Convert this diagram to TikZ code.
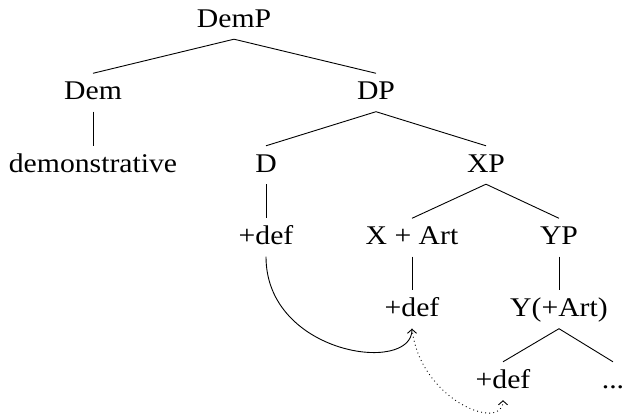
\documentclass[tikz,border=0pt]{standalone}
\usepackage{fontspec}
\setmainfont{Liberation Serif}[FakeStretch=1.1]
\usetikzlibrary{arrows.meta}
\tikzset{
  tn/.style={anchor=base, inner xsep=0pt, inner ysep=10pt, text height=16.5pt, text depth=1.5pt,
             font=\fontsize{27}{31}\selectfont},
  br/.style={line width=0.9pt},
  mv/.style={line width=0.9pt, -{Straight Barb[length=4pt,width=9pt]}},
  mvdot/.style={mv, dash pattern=on 0.9pt off 3.2pt}
}
\begin{document}
\begin{tikzpicture}[x=1pt,y=-1pt]
\useasboundingbox (0,0) rectangle (625,419);
\node[tn] (DemP) at (234,27.5) {DemP};
\node[tn] (Dem) at (93,100) {Dem};
\node[tn] (DP) at (376,100) {DP};
\node[tn] (demo) at (93,172.5) {demonstrative};
\node[tn] (D) at (266,172.5) {D};
\node[tn] (XP) at (486,172.5) {XP};
\node[tn] (defD) at (266,245) {+def};
\node[tn] (XArt) at (412,245) {X + Art};
\node[tn] (YP) at (559,245) {YP};
\node[tn] (defX) at (412,317) {+def};
\node[tn] (YArt) at (559,317) {Y(+Art)};
\node[tn] (defY) at (503,388.5) {+def};
\node[tn] (dots) at (613,388.5) {...};
\draw[br] (DemP.south) -- (Dem.north);
\draw[br] (DemP.south) -- (DP.north);
\draw[br] (Dem.south) -- (demo.north);
\draw[br] (DP.south) -- (D.north);
\draw[br] (DP.south) -- (XP.north);
\draw[br] (D.south) -- (defD.north);
\draw[br] (XP.south) -- (XArt.north);
\draw[br] (XP.south) -- (YP.north);
\draw[br] (XArt.south) -- (defX.north);
\draw[br] (YP.south) -- (YArt.north);
\draw[br] (YArt.south) -- (defY.north);
\draw[br] (YArt.south) -- (dots.north);
\draw[mv] (defD.south) .. controls +(0,98) and +(0,46) .. (defX.south);
\draw[mvdot] (defX.south) .. controls +(8,72) and +(0,32) .. (defY.south);
\end{tikzpicture}
\end{document}
